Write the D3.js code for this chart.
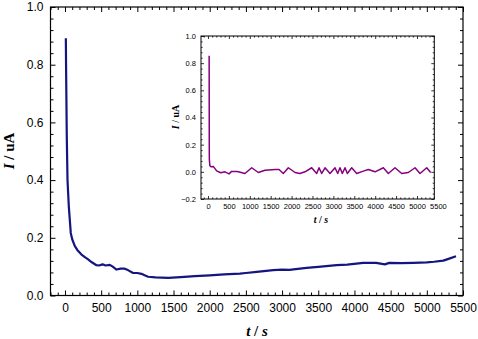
<!DOCTYPE html>
<html><head><meta charset="utf-8">
<script src="https://cdn.jsdelivr.net/npm/d3@7"></script>
<style>
html,body{margin:0;padding:0;background:#fff;}
svg{display:block;}
.tick text{font-family:"Liberation Sans",Arial,sans-serif;fill:#000;}
.title{font-family:"Liberation Serif","Times New Roman",serif;font-weight:bold;fill:#000;}
</style></head>
<body>
<svg id="chart" width="478" height="339"></svg>
<script>
// ---- data ----
const mainTime = [12,15,25,35,53,80,100,135,170,228,280,320,366,435,470,520,560,620,660,712,770,826,870,941,1000,1057,1100,1149,1250,1426,1600,1794,2000,2200,2417,2500,2650,2877,3000,3100,3338,3500,3753,3900,4121,4300,4421,4480,4650,4813,5000,5100,5228,5300,5403];
const mainCurrent = [0.892,0.80,0.55,0.40,0.309,0.217,0.195,0.172,0.158,0.142,0.132,0.125,0.116,0.105,0.104,0.108,0.104,0.106,0.100,0.090,0.093,0.093,0.088,0.078,0.078,0.075,0.070,0.065,0.063,0.061,0.064,0.067,0.070,0.073,0.076,0.078,0.082,0.088,0.090,0.089,0.096,0.099,0.105,0.107,0.113,0.113,0.108,0.113,0.112,0.113,0.115,0.117,0.121,0.127,0.136];

const insetTime = [28,31,33,45,72,127,208,304,407,502,566,700,885,1046,1204,1364,1603,1700,1802,1922,2082,2201,2321,2481,2601,2656,2720,2800,2919,3039,3103,3158,3214,3278,3334,3438,3558,3716,3836,3996,4195,4314,4474,4634,4793,4953,5072,5232,5328];
const insetCurrent = [0.855,0.17,0.09,0.045,0.037,0.04,0.007,-0.007,0,-0.015,0.003,0.002,-0.012,0.03,-0.005,0.012,0.017,0.017,-0.012,0.03,-0.005,-0.012,0,0.03,-0.012,0.03,-0.012,0.03,-0.012,0.03,-0.012,0.03,-0.012,0.03,-0.012,0.03,-0.012,0.005,0.017,0,0.03,-0.012,0.03,-0.012,-0.005,0.03,-0.012,0.03,-0.005];

const xTickValues = [0,500,1000,1500,2000,2500,3000,3500,4000,4500,5000,5500];
const yTickValues = [0.0,0.2,0.4,0.6,0.8,1.0];
const insetYTickValues = [-0.2,0.0,0.2,0.4,0.6,0.8,1.0];

// ---- drawing ----
const svg = d3.select("#chart");

function range(a, b, s) { const r = []; for (let v = a; v <= b + 1e-9; v += s) r.push(+v.toFixed(6)); return r; }

function drawFrame(g, x, y, o) {
  const [x0, x1] = x.range(), [y0, y1] = y.range();
  const w = x1 - x0, h = y0 - y1;
  const inX = v => v >= x.domain()[0] - 1e-9 && v <= x.domain()[1] + 1e-9;
  const inY = v => v >= y.domain()[0] - 1e-9 && v <= y.domain()[1] + 1e-9;
  const xMaj = o.xMajor.filter(inX), yMaj = o.yMajor.filter(inY);
  const xMin = range(o.xMinorStart, x.domain()[1], o.xMinorStep).filter(v => inX(v) && !xMaj.some(m => Math.abs(m - v) < 1e-6));
  const yMin = range(y.domain()[0], y.domain()[1], o.yMinorStep).filter(v => inY(v) && !yMaj.some(m => Math.abs(m - v) < 1e-6));

  // ticks (inward) on all sides
  const mk = (axisFn, scale, vals, len, tr) => g.append("g").attr("transform", tr)
      .call(axisFn(scale).tickValues(vals).tickSizeInner(-len).tickSizeOuter(0).tickFormat(""))
      .call(s => s.select(".domain").remove())
      .call(s => s.selectAll("line").attr("stroke", "#000").attr("stroke-width", o.tw));
  mk(d3.axisBottom, x, xMaj, o.maj, `translate(0,${y0})`);
  mk(d3.axisBottom, x, xMin, o.min, `translate(0,${y0})`);
  mk(d3.axisTop, x, xMaj, o.maj, `translate(0,${y1})`);
  mk(d3.axisTop, x, xMin, o.min, `translate(0,${y1})`);
  mk(d3.axisLeft, y, yMaj, o.maj, `translate(${x0},0)`);
  mk(d3.axisLeft, y, yMin, o.min, `translate(${x0},0)`);
  mk(d3.axisRight, y, yMaj, o.maj, `translate(${x1},0)`);
  mk(d3.axisRight, y, yMin, o.min, `translate(${x1},0)`);

  // labels
  g.append("g").attr("transform", `translate(0,${y0})`)
    .call(d3.axisBottom(x).tickValues(o.xMajor).tickSize(0).tickPadding(o.xPad).tickFormat(d3.format("d")))
    .call(s => s.select(".domain").remove())
    .call(s => s.selectAll("text").attr("font-size", o.fs));
  g.append("g").attr("transform", `translate(${x0},0)`)
    .call(d3.axisLeft(y).tickValues(o.yMajor).tickSize(0).tickPadding(o.yPad).tickFormat(d3.format(".1f")))
    .call(s => s.select(".domain").remove())
    .call(s => s.selectAll("text").attr("font-size", o.fs));

  g.append("rect").attr("x", x0).attr("y", y1).attr("width", w).attr("height", h)
    .attr("fill", "none").attr("stroke", "#000").attr("stroke-width", o.fw);
}

// main chart
const mx = d3.scaleLinear().domain([-200, 5500]).range([50.5, 463]);
const my = d3.scaleLinear().domain([0, 1]).range([295.5, 7]);
const gMain = svg.append("g");

gMain.append("path")
  .datum(mainTime.map((t, i) => [t, mainCurrent[i]]))
  .attr("fill", "none").attr("stroke", "#15157f").attr("stroke-width", 2.2)
  .attr("stroke-linejoin", "round")
  .attr("d", d3.line().x(d => mx(d[0])).y(d => my(d[1])));

drawFrame(gMain, mx, my, {
  xMajor: xTickValues, yMajor: yTickValues, xMinorStart: -200, xMinorStep: 100, yMinorStep: 0.04,
  maj: 5, min: 3, tw: 1, fw: 1.2, fs: 12, xPad: 8, yPad: 7
});

svg.append("text").attr("class", "title").attr("font-size", 15)
  .attr("transform", "translate(14,151) rotate(-90)").attr("text-anchor", "middle")
  .html('<tspan font-style="italic">I</tspan> / uA');
svg.append("text").attr("class", "title").attr("font-size", 15)
  .attr("x", 257).attr("y", 336).attr("text-anchor", "middle")
  .html('<tspan font-style="italic">t</tspan> / <tspan font-style="italic">s</tspan>');

// inset chart
const ix = d3.scaleLinear().domain([-167, 5414]).range([201, 434.3]);
const iy = d3.scaleLinear().domain([-0.2, 1]).range([199, 36]);
const gIn = svg.append("g");
gIn.append("rect").attr("x", 201).attr("y", 36).attr("width", 233.3).attr("height", 163).attr("fill", "#fff");
gIn.append("path")
  .datum(insetTime.map((t, i) => [t, insetCurrent[i]]))
  .attr("fill", "none").attr("stroke", "#85007f").attr("stroke-width", 1.5)
  .attr("stroke-linejoin", "round")
  .attr("d", d3.line().x(d => ix(d[0])).y(d => iy(d[1])));

drawFrame(gIn, ix, iy, {
  xMajor: xTickValues, yMajor: insetYTickValues, xMinorStart: -100, xMinorStep: 100, yMinorStep: 0.04,
  maj: 3, min: 1.6, tw: 0.8, fw: 1, fs: 7.5, xPad: 5, yPad: 5
});

svg.append("text").attr("class", "title").attr("font-size", 10)
  .attr("transform", "translate(179,117) rotate(-90)").attr("text-anchor", "middle")
  .html('<tspan font-style="italic">I</tspan> / uA');
svg.append("text").attr("class", "title").attr("font-size", 10)
  .attr("x", 321).attr("y", 223).attr("text-anchor", "middle")
  .html('<tspan font-style="italic">t</tspan> / <tspan font-style="italic">s</tspan>');
</script>
</body></html>
